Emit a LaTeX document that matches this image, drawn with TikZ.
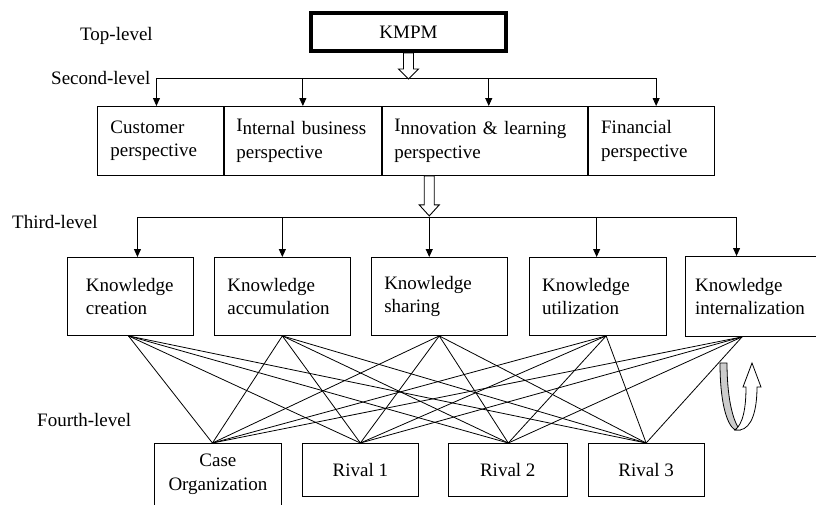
\documentclass[tikz,border=0pt]{standalone}
\usepackage{fontspec}
\setmainfont{Liberation Serif}
\usepackage{tikz}
\usetikzlibrary{positioning,arrows.meta}
\newcommand{\dfont}{\fontsize{19}{23.5}\selectfont}
\tikzset{
  lvl/.style={inner sep=0pt, anchor=west},
  topbox/.style={rectangle, draw, line width=4pt, minimum width=195pt,
                 minimum height=38pt, inner sep=0pt},
  persp/.style={rectangle, draw, line width=0.9pt, minimum height=69pt,
                inner xsep=13pt, inner ysep=0pt, align=left},
  know/.style={rectangle, draw, line width=0.9pt, minimum height=78pt,
               inner xsep=13pt, inner ysep=0pt, align=left},
  org/.style={rectangle, draw, line width=0.9pt, minimum height=53pt,
              inner sep=0pt, align=center},
  flow/.style={-{Triangle[length=8pt,width=7pt]}, line width=0.9pt},
  bus/.style={line width=0.9pt},
  web/.style={line width=0.8pt},
  hollow/.style={draw, fill=white, line width=0.9pt},
}

\begin{document}
\begin{tikzpicture}[x=1pt, y=-1pt, every node/.style={font=\dfont}]
  \useasboundingbox (0,0) rectangle (816,504);

  % ---- level labels ----
  \node[lvl] (l1) at (80,36) {Top-level};
  \node[lvl] (l2) at (51,78) {Second-level};
  \node[lvl] (l3) at (12,222) {Third-level};
  \node[lvl] (l4) at (37,420) {Fourth-level};

  % ---- top level ----
  \node[topbox] (kmpm) at (408.5,32) {KMPM};

  % ---- second level (four perspectives, sharing borders) ----
  \node[persp, anchor=north west, minimum width=126pt, text width=100pt] (cp) at (97,106)
        {Customer\\perspective};
  \node[persp, right=0pt of cp, inner xsep=12pt, minimum width=157pt, text width=133pt] (ib)
        {\raisebox{3pt}{I}nternal business\\perspective};
  \node[persp, right=0pt of ib, inner xsep=12pt, minimum width=205pt, text width=181pt] (il)
        {\raisebox{3pt}{I}nnovation \& learning\\perspective};
  \node[persp, right=0pt of il, minimum width=126pt, text width=100pt] (fp)
        {Financial\\perspective};

  % ---- third level (knowledge activities) ----
  \node[know, anchor=north west, inner xsep=18.5pt, minimum width=126pt, text width=89pt] (kc)
        at (67,257) {Knowledge\\creation};
  \node[know, right=20pt of kc, minimum width=136pt, text width=110pt] (ka)
        {Knowledge\\accumulation};
  \node[know, right=20pt of ka, minimum width=136pt, text width=110pt] (ks)
        {Knowledge\\sharing};
  \node[know, right=21pt of ks, minimum width=137pt, text width=111pt] (ku)
        {Knowledge\\utilization};
  \node[know, right=18pt of ku, inner xsep=10pt, minimum width=131pt, minimum height=80pt,
        text width=111pt] (ki) {Knowledge\\internalization};

  % ---- fourth level (organizations) ----
  \node[org, anchor=north west, minimum width=127pt, minimum height=62pt] (co) at (154,443)
        {Case\\Organization};
  \node[org, right=20pt of co.north east, anchor=north west, minimum width=116pt] (r1) {Rival 1};
  \node[org, right=29pt of r1.north east, anchor=north west, minimum width=119pt] (r2) {Rival 2};
  \node[org, right=20pt of r2.north east, anchor=north west, minimum width=116pt] (r3) {Rival 3};

  % ===== top -> second level =====
  \coordinate (bus2) at (0,78);
  \draw[bus] ([xshift=-4]cp.north |- bus2) -- ([xshift=5]fp.north |- bus2);
  \foreach \n/\dx in {cp/-4,ib/0,il/4,fp/5}
    \draw[flow] ([xshift=\dx]\n.north |- bus2) -- ([xshift=\dx]\n.north);
  % hollow arrow KMPM -> bus
  \draw[hollow] ([xshift=-5]kmpm.south) -- ++(0,16) -- ++(-5,0) -- ++(10,10)
    -- ++(10,-10) -- ++(-5,0) -- ++(0,-16) -- cycle;

  % ===== second -> third level =====
  \coordinate (bus3) at (0,217);
  \draw[bus] ([xshift=7]kc.north |- bus3) -- ([xshift=-14]ki.north |- bus3);
  \foreach \n/\dx in {kc/7,ka/0,ks/-10,ku/-1,ki/-14}
    \draw[flow] ([xshift=\dx]\n.north |- bus3) -- ([xshift=\dx]\n.north);
  % hollow arrow perspectives -> bus
  \draw[hollow] ([xshift=-15]ks.north |- il.south) -- ++(0,29) -- ++(-5,0) -- ++(10,11)
    -- ++(10,-11) -- ++(-5,0) -- ++(0,-29) -- cycle;

  % ===== third -> fourth level (every pair) =====
  \foreach \k/\kx in {kc/-2,ka/0,ks/0,ku/8.5,ki/-8.5}
    \foreach \o/\ox in {co/-5.5,r1/0,r2/0.5,r3/0}
      \draw[web] ([xshift=\kx]\k.south) -- ([xshift=\ox]\o.north);

  % ---- twisted return arrow ----
  \filldraw[fill=gray!40, line width=0.8pt] (720,363) -- (727,363)
    .. controls (727,395) and (732,420) .. (740,430) -- (735,430)
    .. controls (726,424) and (720,400) .. (720,363) -- cycle;
  \filldraw[fill=white, line width=0.8pt] (735,430) -- (740,430)
    .. controls (752,428) and (757,410) .. (757,387) -- (761,387) -- (752,363)
    -- (743,387) -- (746,387) .. controls (746,408) and (743,424) .. (735,430) -- cycle;
\end{tikzpicture}
\end{document}
